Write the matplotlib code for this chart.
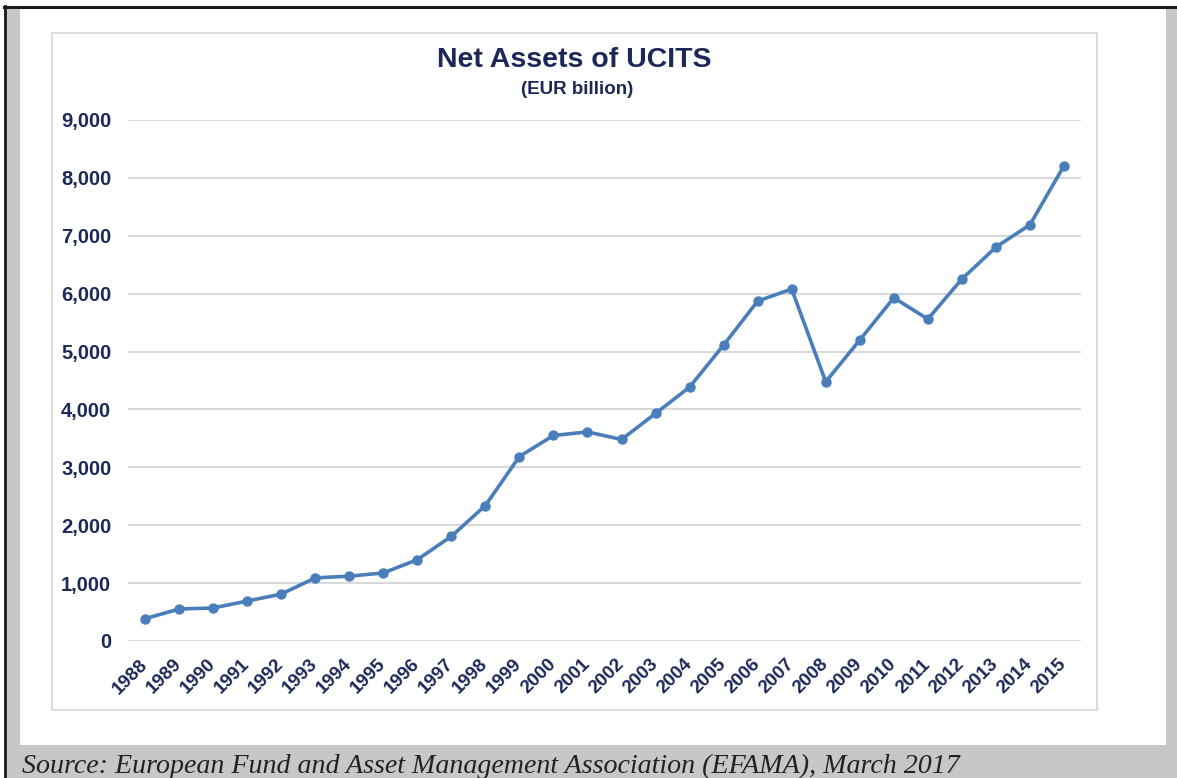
import matplotlib
matplotlib.use("Agg")
import matplotlib.pyplot as plt
from matplotlib.patches import Rectangle
from matplotlib.lines import Line2D
from matplotlib.ticker import FuncFormatter

years = [str(y) for y in range(1988, 2016)]
net_assets = [385, 553, 570, 690, 810, 1090, 1120, 1175, 1405, 1808,
              2340, 3187, 3550, 3612, 3481, 3931, 4386, 5112, 5872, 6080,
              4478, 5199, 5929, 5561, 6252, 6804, 7190, 8209]
y_ticks = list(range(0, 9001, 1000))

W, H = 1177, 778
NAVY = "#1c2858"
BLUE = "#4a7ebb"
GRID = "#d9d9d9"

plt.rcParams["font.family"] = ["Liberation Sans", "DejaVu Sans"]

fig = plt.figure(figsize=(W / 100, H / 100), dpi=100, facecolor="white")


def px_rect(x0, y0, x1, y1, **kw):
    # pixel box (top-left origin) -> figure-fraction rectangle
    return Rectangle((x0 / W, 1 - y1 / H), (x1 - x0) / W, (y1 - y0) / H,
                     transform=fig.transFigure, **kw)


# page background: gray frame, white sheet, black rules, chart box
fig.patches.append(px_rect(5, 7, W, H, facecolor="#c6c7c8", edgecolor="none", zorder=0))
fig.patches.append(px_rect(20, 9, 1166, 745, facecolor="white", edgecolor="none", zorder=1))
fig.patches.append(px_rect(52, 33, 1097, 710, facecolor="white", edgecolor=GRID,
                           linewidth=1.3, zorder=2))
fig.lines.append(Line2D([4 / W, 1], [1 - 6.5 / H, 1 - 6.5 / H], transform=fig.transFigure,
                        color="#1a1a1a", linewidth=2.2, zorder=3))
fig.lines.append(Line2D([5 / W, 5 / W], [0, 1 - 6 / H], transform=fig.transFigure,
                        color="#1a1a1a", linewidth=2.0, zorder=3))

ax = fig.add_axes([128 / W, 1 - 641 / H, (1081 - 128) / W, (641 - 120) / H])
ax.set_zorder(5)
ax.patch.set_visible(False)

x = range(len(years))
ax.plot(x, net_assets, color=BLUE, linewidth=2.6, marker="o", markersize=6.5,
        clip_on=False, zorder=3)

ax.set_xlim(-0.5, len(years) - 0.5)
ax.set_ylim(0, 9000)
ax.set_yticks(y_ticks)
ax.yaxis.set_major_formatter(FuncFormatter(lambda v, p: f"{int(v):,}"))
ax.set_xticks(list(x))
ax.set_xticklabels(years, rotation=45, ha="right", va="center", rotation_mode="anchor")

for s in ax.spines.values():
    s.set_visible(False)
ax.grid(axis="y", color=GRID, linewidth=1.5)
ax.set_axisbelow(True)
ax.tick_params(axis="both", length=0, colors=NAVY)
ax.tick_params(axis="y", pad=12, labelsize=14.5)
ax.tick_params(axis="x", pad=15, labelsize=13.5)
for lbl in ax.get_xticklabels() + ax.get_yticklabels():
    lbl.set_fontweight("bold")

fig.text(574 / W, 1 - 60 / H, "Net Assets of UCITS", ha="center", va="center",
         fontsize=20.5, fontweight="bold", color=NAVY)
fig.text(577 / W, 1 - 89 / H, "(EUR billion)", ha="center", va="center",
         fontsize=13.5, fontweight="bold", color=NAVY)

fig.text(22 / W, 1 - 773 / H,
         "Source: European Fund and Asset Management Association (EFAMA), March 2017",
         ha="left", va="baseline", fontsize=20.2, style="italic", color="#222222",
         family=["Liberation Serif", "DejaVu Serif"], zorder=6)

fig.savefig("out.png", dpi=100, facecolor="white")
